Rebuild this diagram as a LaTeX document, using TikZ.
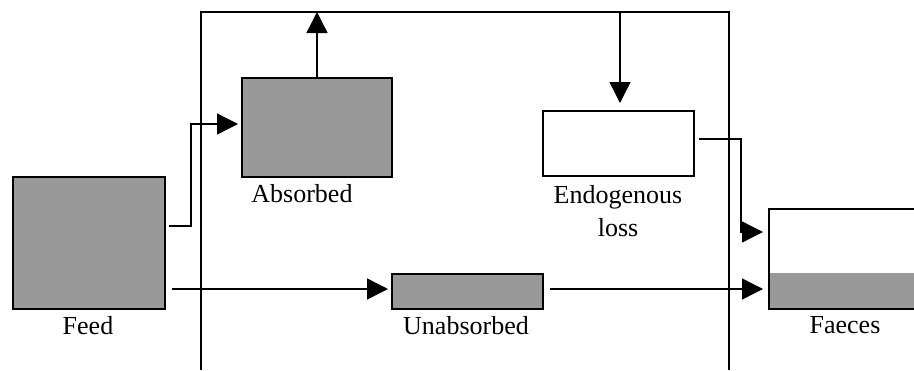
\documentclass[tikz,border=0pt]{standalone}
\usepackage{fontspec}
\setmainfont{Liberation Serif}
\usetikzlibrary{arrows.meta}
\definecolor{boxgray}{RGB}{153,153,153}
\begin{document}
\begin{tikzpicture}[x=1pt,y=-1pt,
  box/.style={draw, line width=2pt, fill=boxgray, inner sep=0pt, anchor=north west},
  conn/.style={line width=1.4pt},
  arr/.style={line width=1.4pt, -{Triangle[length=21pt,width=21pt]}},
  lbl/.style={font=\fontsize{26}{30}\selectfont, anchor=base, inner sep=0pt}]
\clip (0,0) rectangle (914,370);
\fill[white] (0,0) rectangle (914,370);
% boxes
\node[box, minimum width=152pt, minimum height=132pt] (feed) at (12,176) {};
\node[box, minimum width=150pt, minimum height=99pt] (absorbed) at (241,77) {};
\node[box, minimum width=151pt, minimum height=35pt] (unabs) at (391,273) {};
\node[box, fill=white, minimum width=151pt, minimum height=65pt] (endo) at (542,110) {};
\node[box, fill=white, draw=none, minimum width=170pt, minimum height=98pt] (faeces) at (769,209) {};
\fill[boxgray] (769,273) rectangle (faeces.south east);
\draw[line width=2pt] (faeces.north east) -- (faeces.north west) -- (faeces.south west) -- (faeces.south east);
% frame
\coordinate (tl) at (201,12);
\coordinate (tr) at (729,12);
\coordinate (bl) at (201,370);
\coordinate (br) at (729,370);
\draw[conn] (bl) -- (tl) -- (tr) -- (br);
% connectors
\draw[arr] (absorbed.north) -- (absorbed.north |- tl);
\draw[arr, shorten >=7pt] ([xshift=1.5pt]endo.north |- tl) -- ([xshift=1.5pt]endo.north);
\draw[arr, shorten >=3pt] ([xshift=3pt,yshift=17pt]feed.east) -- ++(22,0) |- ([yshift=3.5pt]absorbed.west);
\draw[arr, shorten >=3pt] ([xshift=6pt,yshift=-46pt]feed.east) -- ([yshift=2.5pt]unabs.west);
\draw[arr, shorten >=6pt] ([xshift=6pt,yshift=2.5pt]unabs.east) -- ([yshift=-30pt]faeces.west);
\draw[arr, shorten >=6pt] ([xshift=4pt,yshift=4.5pt]endo.east) -- ++(42,0) |- ([yshift=27pt]faeces.west);
% labels
\node[lbl] (labs) at (302,202) {Absorbed};
\node[lbl] (lfeed) at (88,334) {Feed};
\node[lbl] (lunabs) at (466,334) {Unabsorbed};
\node[lbl] (lfaeces) at (845,333) {Faeces};
\node[lbl] (lendo) at (618,203) {Endogenous};
\node[lbl] (lloss) at (618,236) {loss};
\end{tikzpicture}
\end{document}
